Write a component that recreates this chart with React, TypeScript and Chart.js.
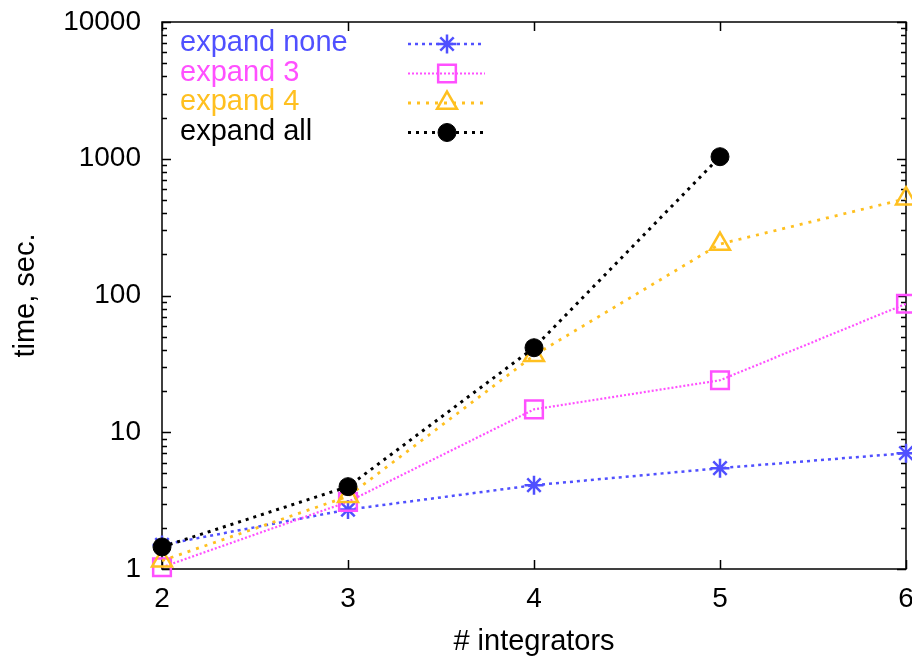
import React, { useEffect, useRef } from 'react';
import { Chart, registerables } from 'chart.js';
import { drawPoint } from 'chart.js/helpers';

Chart.register(...registerables);

const integrators = [2, 3, 4, 5, 6];
const seriesLabels = ['expand none', 'expand 3', 'expand 4', 'expand all'];
const expandNone = [1.5, 2.72, 4.1, 5.46, 7.03];
const expand3 = [1.03, 3.1, 14.7, 24, 87];
const expand4 = [1.15, 3.4, 36.5, 238, 510];
const expandAll = [1.45, 4.0, 41.5, 1035];
const yTickLabels = [1, 10, 100, 1000, 10000];

const FAMILY = '"Liberation Sans", Arial, sans-serif';
const TICK_FONT = { family: FAMILY, size: 28 };
const TEXT_FONT = { family: FAMILY, size: 29 };

const toPoints = (vals: number[]) => vals.map((v, i) => ({ x: integrators[i], y: v }));

const gnuplotPlugin = {
  id: 'gnuplotFrame',
  beforeDatasetsDraw(chart: any) {
    const { ctx, chartArea: a, scales } = chart;
    const xs = scales.x;
    const ys = scales.y;
    ctx.save();
    ctx.strokeStyle = '#000';
    ctx.lineWidth = 1.5;
    ctx.setLineDash([]);
    ctx.strokeRect(a.left, a.top, a.right - a.left, a.bottom - a.top);
    ctx.beginPath();
    const maxV = yTickLabels[yTickLabels.length - 1];
    for (let d = yTickLabels[0]; d <= maxV; d *= 10) {
      for (let k = 1; k < 10; k++) {
        const v = d * k;
        if (v > maxV) break;
        const py = Math.round(ys.getPixelForValue(v)) + 0.5;
        const len = k === 1 ? 9 : 5;
        ctx.moveTo(a.left, py);
        ctx.lineTo(a.left + len, py);
        ctx.moveTo(a.right, py);
        ctx.lineTo(a.right - len, py);
      }
    }
    for (const v of integrators) {
      const px = Math.round(xs.getPixelForValue(v)) + 0.5;
      ctx.moveTo(px, a.bottom);
      ctx.lineTo(px, a.bottom - 9);
      ctx.moveTo(px, a.top);
      ctx.lineTo(px, a.top + 9);
    }
    ctx.stroke();
    ctx.restore();
  },
  afterDraw(chart: any) {
    const { ctx, chartArea: a } = chart;
    ctx.save();
    chart.data.datasets.forEach((ds: any, i: number) => {
      const base = a.top + 29 + i * 29.5;
      ctx.font = `${TEXT_FONT.size}px ${TEXT_FONT.family}`;
      ctx.fillStyle = ds.borderColor;
      ctx.textAlign = 'left';
      ctx.textBaseline = 'alphabetic';
      ctx.fillText(ds.label, a.left + 18, base);
      const ly = base - 7;
      ctx.beginPath();
      ctx.setLineDash(ds.borderDash || []);
      ctx.lineWidth = ds.borderWidth;
      ctx.strokeStyle = ds.borderColor;
      ctx.moveTo(a.left + 246, ly);
      ctx.lineTo(a.left + 323, ly);
      ctx.stroke();
      ctx.setLineDash([]);
      ctx.fillStyle = ds.pointBackgroundColor;
      ctx.strokeStyle = ds.pointBorderColor;
      ctx.lineWidth = ds.pointBorderWidth;
      drawPoint(ctx, {
        pointStyle: ds.pointStyle,
        radius: ds.pointRadius,
        borderWidth: ds.pointBorderWidth,
        rotation: 0,
      } as any, a.left + 285, ly);
    });
    ctx.restore();
  },
};

export default function App() {
  const ref = useRef<HTMLCanvasElement | null>(null);
  useEffect(() => {
    if (!ref.current) return;
    const chart = new Chart(ref.current, {
      type: 'line',
      data: {
        datasets: [
          {
            label: seriesLabels[0],
            data: toPoints(expandNone),
            borderColor: '#5050ff',
            backgroundColor: '#5050ff',
            borderWidth: 2.5,
            borderDash: [3, 4],
            pointStyle: 'star',
            pointRadius: 9.5,
            pointBorderWidth: 2.5,
            pointBorderColor: '#5050ff',
            pointBackgroundColor: 'rgba(0,0,0,0)',
            clip: false,
            order: 3,
          },
          {
            label: seriesLabels[1],
            data: toPoints(expand3),
            borderColor: '#ff50ff',
            backgroundColor: '#ff50ff',
            borderWidth: 2.2,
            borderDash: [2, 2],
            pointStyle: 'rect',
            pointRadius: 12.5,
            pointBorderWidth: 2.5,
            pointBorderColor: '#ff50ff',
            pointBackgroundColor: 'rgba(0,0,0,0)',
            clip: false,
            order: 2,
          },
          {
            label: seriesLabels[2],
            data: toPoints(expand4),
            borderColor: '#ffc020',
            backgroundColor: '#ffc020',
            borderWidth: 2.8,
            borderDash: [3, 6],
            pointStyle: 'triangle',
            pointRadius: 11.5,
            pointBorderWidth: 2.5,
            pointBorderColor: '#ffc020',
            pointBackgroundColor: 'rgba(0,0,0,0)',
            clip: false,
            order: 1,
          },
          {
            label: seriesLabels[3],
            data: toPoints(expandAll),
            borderColor: '#000000',
            backgroundColor: '#000000',
            borderWidth: 3,
            borderDash: [3, 5],
            pointStyle: 'circle',
            pointRadius: 9,
            pointBorderWidth: 1,
            pointBorderColor: '#000000',
            pointBackgroundColor: '#000000',
            clip: false,
            order: 0,
          },
        ] as any,
      },
      options: {
        responsive: false,
        animation: false,
        devicePixelRatio: 1,
        layout: { padding: { top: 22, right: 6, left: 0, bottom: 0 } },
        plugins: {
          legend: { display: false },
          tooltip: { enabled: false },
        },
        scales: {
          x: {
            type: 'linear',
            min: integrators[0],
            max: integrators[integrators.length - 1],
            afterFit: (s: any) => {
              s.height = 92;
              s.paddingLeft = 0;
              s.paddingRight = 0;
            },
            ticks: { stepSize: 1, color: '#000', font: TICK_FONT, padding: 5, maxRotation: 0 },
            grid: { display: false },
            border: { display: false },
            title: {
              display: true,
              text: '# integrators',
              color: '#000',
              font: TEXT_FONT,
              padding: { top: 0, bottom: 2 },
            },
          },
          y: {
            type: 'logarithmic',
            min: yTickLabels[0],
            max: yTickLabels[yTickLabels.length - 1],
            afterFit: (s: any) => {
              s.width = 162;
              s.paddingTop = 0;
              s.paddingBottom = 0;
            },
            ticks: {
              autoSkip: false,
              color: '#000',
              font: TICK_FONT,
              padding: 13,
              callback: (v: any) => (yTickLabels.includes(Number(v)) ? String(v) : ''),
            },
            grid: { display: false },
            border: { display: false },
            title: {
              display: true,
              text: 'time, sec.',
              color: '#000',
              font: TEXT_FONT,
              padding: { top: 9, bottom: 0 },
            },
          },
        },
      } as any,
      plugins: [gnuplotPlugin],
    });
    return () => chart.destroy();
  }, []);

  return (
    <div style={{ position: 'fixed', left: 0, top: 0, width: 912, height: 661, overflow: 'hidden', background: '#fff' }}>
      <canvas ref={ref} width={921} height={661} style={{ display: 'block', width: 921, height: 661 }} />
    </div>
  );
}
